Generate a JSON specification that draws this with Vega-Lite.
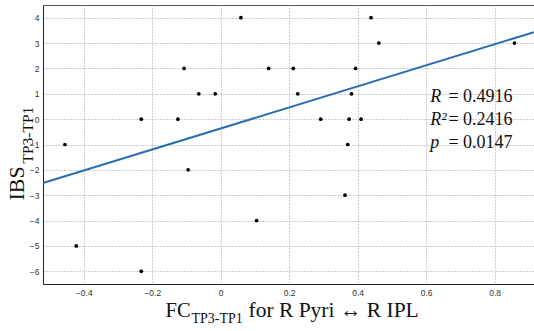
{
  "$schema": "https://vega.github.io/schema/vega-lite/v6.json",
  "width": 491,
  "height": 279,
  "autosize": {"type": "none"},
  "padding": {"left": 43, "top": 5, "right": 0, "bottom": 47},
  "background": "white",
  "config": {
    "view": {"stroke": "#555", "strokeWidth": 1},
    "axis": {
      "labelFont": "Liberation Sans",
      "labelFontSize": 8.5,
      "labelColor": "#333",
      "domainColor": "#222",
      "gridColor": "#9a9a9a",
      "gridDash": [1, 2],
      "gridWidth": 1,
      "titleFont": "Liberation Serif",
      "titleFontWeight": "normal",
      "titleColor": "#111"
    }
  },
  "resolve": {"axis": {"x": "independent", "y": "independent"}},
  "layer": [
    {
      "data": {
        "values": [
          {"fc": -0.455, "ibs": -1},
          {"fc": -0.422, "ibs": -5},
          {"fc": -0.232, "ibs": 0},
          {"fc": -0.232, "ibs": -6},
          {"fc": -0.125, "ibs": 0},
          {"fc": -0.107, "ibs": 2},
          {"fc": -0.095, "ibs": -2},
          {"fc": -0.064, "ibs": 1},
          {"fc": -0.016, "ibs": 1},
          {"fc": 0.059, "ibs": 4},
          {"fc": 0.105, "ibs": -4},
          {"fc": 0.14, "ibs": 2},
          {"fc": 0.212, "ibs": 2},
          {"fc": 0.225, "ibs": 1},
          {"fc": 0.292, "ibs": 0},
          {"fc": 0.363, "ibs": -3},
          {"fc": 0.371, "ibs": -1},
          {"fc": 0.375, "ibs": 0},
          {"fc": 0.382, "ibs": 1},
          {"fc": 0.394, "ibs": 2},
          {"fc": 0.41, "ibs": 0},
          {"fc": 0.439, "ibs": 4},
          {"fc": 0.462, "ibs": 3},
          {"fc": 0.858, "ibs": 3}
        ]
      },
      "mark": {"type": "circle", "size": 14, "color": "#000", "opacity": 1},
      "encoding": {
        "x": {
          "field": "fc", "type": "quantitative",
          "scale": {"domain": [-0.519, 0.915], "nice": false, "zero": false},
          "axis": {
            "orient": "bottom",
            "values": [-0.4, -0.2, 0, 0.2, 0.4, 0.6, 0.8],
            "format": "~g",
            "ticks": false,
            "labelPadding": 4,
            "grid": true,
            "title": "FC",
            "titleFontSize": 20.5,
            "titleX": 122, "titleY": 32,
            "titleAlign": "left", "titleBaseline": "alphabetic", "titleAngle": 0
          }
        },
        "y": {
          "field": "ibs", "type": "quantitative",
          "scale": {"domain": [-6.5, 4.5], "nice": false, "zero": false},
          "axis": {
            "orient": "left",
            "values": [-6, -5, -4, -3, -2, -1, 0, 1, 2, 3, 4],
            "ticks": false,
            "labelPadding": 4,
            "grid": true,
            "title": "IBS",
            "titleFontSize": 22,
            "titleX": -20, "titleY": 195,
            "titleAlign": "left", "titleBaseline": "alphabetic", "titleAngle": 270
          }
        }
      }
    },
    {
      "data": {
        "values": [
          {"fc": -0.519, "fit": -2.52},
          {"fc": 0.915, "fit": 3.43}
        ]
      },
      "mark": {"type": "line", "color": "#2a6db0", "strokeWidth": 2},
      "encoding": {
        "x": {
          "field": "fc", "type": "quantitative",
          "scale": {"domain": [-0.519, 0.915], "nice": false, "zero": false},
          "axis": {
            "orient": "bottom", "labels": false, "ticks": false, "domain": false, "grid": false,
            "title": "TP3-TP1",
            "titleFontSize": 14,
            "titleX": 148, "titleY": 38.5,
            "titleAlign": "left", "titleBaseline": "alphabetic", "titleAngle": 0
          }
        },
        "y": {
          "field": "fit", "type": "quantitative",
          "scale": {"domain": [-6.5, 4.5], "nice": false, "zero": false},
          "axis": {
            "orient": "left", "labels": false, "ticks": false, "domain": false, "grid": false,
            "title": "TP3-TP1",
            "titleFontSize": 15.5,
            "titleX": -11, "titleY": 158,
            "titleAlign": "left", "titleBaseline": "alphabetic", "titleAngle": 270
          }
        }
      }
    },
    {
      "data": {"values": [{"stat": "fit"}]},
      "mark": {
        "type": "text",
        "text": ["R", "R²", "p"],
        "font": "Liberation Serif",
        "fontStyle": "italic",
        "fontSize": 18,
        "lineHeight": 23,
        "align": "left",
        "baseline": "alphabetic",
        "color": "#111"
      },
      "encoding": {
        "x": {
          "datum": 0.612, "type": "quantitative",
          "scale": {"domain": [-0.519, 0.915], "nice": false, "zero": false},
          "axis": {
            "orient": "bottom", "labels": false, "ticks": false, "domain": false, "grid": false,
            "title": "for R Pyri ↔ R IPL",
            "titleFontSize": 21.5,
            "titleX": 205, "titleY": 32,
            "titleAlign": "left", "titleBaseline": "alphabetic", "titleAngle": 0
          }
        },
        "y": {
          "datum": 0.682, "type": "quantitative",
          "scale": {"domain": [-6.5, 4.5], "nice": false, "zero": false},
          "axis": null
        }
      }
    },
    {
      "data": {"values": [{"stat": "fit"}]},
      "mark": {
        "type": "text",
        "text": ["= 0.4916", "= 0.2416", "= 0.0147"],
        "font": "Liberation Serif",
        "fontSize": 18,
        "lineHeight": 23,
        "align": "left",
        "baseline": "alphabetic",
        "color": "#111"
      },
      "encoding": {
        "x": {
          "datum": 0.665, "type": "quantitative",
          "scale": {"domain": [-0.519, 0.915], "nice": false, "zero": false},
          "axis": null
        },
        "y": {
          "datum": 0.682, "type": "quantitative",
          "scale": {"domain": [-6.5, 4.5], "nice": false, "zero": false},
          "axis": null
        }
      }
    }
  ]
}
